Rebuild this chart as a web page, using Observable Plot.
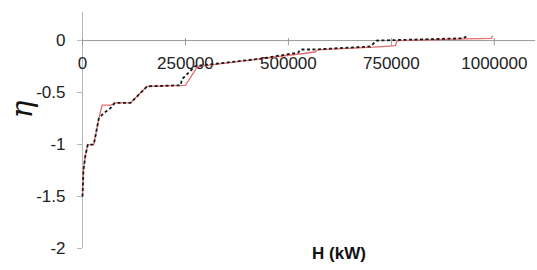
<!DOCTYPE html>
<html>
<head>
<meta charset="utf-8">
<script src="https://cdn.jsdelivr.net/npm/d3@7"></script>
<script src="https://cdn.jsdelivr.net/npm/@observablehq/plot@0.6"></script>
<style>
  body { margin: 0; background: #fff; }
  #chart { width: 537px; height: 270px; }
  svg { font-family: "Liberation Sans", Arial, sans-serif; }
</style>
</head>
<body>
<div id="chart"></div>
<script>
// Series 1 (black dashed)
const blackH   = [0, 2400, 7300, 12900, 27400, 39600, 51000, 68000, 78400, 116500, 157000, 238000, 242000, 274000, 432000, 524000, 529000, 561000, 699000, 714000, 925000, 932000];
const blackEta = [-1.5, -1.24, -1.10, -1.0, -1.0, -0.75, -0.70, -0.65, -0.60, -0.60, -0.44, -0.43, -0.37, -0.245, -0.175, -0.115, -0.086, -0.086, -0.057, 0.0, 0.022, 0.04];
// Series 2 (red solid)
const redH   = [0, 2400, 7300, 12900, 27400, 39600, 47800, 69700, 78400, 116500, 157000, 250000, 279000, 432000, 565000, 570000, 706000, 760000, 764000, 930000, 993000, 995000];
const redEta = [-1.5, -1.24, -1.10, -1.0, -1.0, -0.75, -0.62, -0.62, -0.60, -0.60, -0.44, -0.43, -0.25, -0.175, -0.11, -0.089, -0.064, -0.048, 0.0, 0.016, 0.022, 0.043];

const xTicks = [0, 250000, 500000, 750000, 1000000];
const xTickLabels = ["0", "250000", "500000", "750000", "1000000"];
const yTicks = [0, -0.5, -1, -1.5, -2];
const yTickLabels = ["0", "-0.5", "-1", "-1.5", "-2"];
const xTitle = "H (kW)";
const yTitle = "η";

const black = blackH.map((h, i) => ({H: h, eta: blackEta[i]}));
const red = redH.map((h, i) => ({H: h, eta: redEta[i]}));
const xt = xTicks.map((v, i) => ({v, label: xTickLabels[i]}));

const chart = Plot.plot({
  width: 537,
  height: 270,
  marginLeft: 82,
  marginRight: 2,
  marginTop: 12,
  marginBottom: 22,
  style: {fontFamily: "Liberation Sans, Arial, sans-serif", fontSize: "17px", background: "#fff", color: "#222"},
  x: {domain: [0, 1100000], axis: null},
  y: {domain: [-2, 0.27]},
  marks: [
    Plot.ruleX([0], {y1: -2, y2: 0.27, stroke: "#b8b8b8", strokeWidth: 1}),
    Plot.axisY({ticks: yTicks, tickFormat: (d) => yTickLabels[yTicks.indexOf(d)], tickSize: 5, tickPadding: 12, stroke: "#b8b8b8", label: null, fontSize: 17, fill: "#222"}),
    Plot.ruleY([0], {x1: 0, x2: 1100000, stroke: "#9a9a9a", strokeWidth: 1}),
    Plot.ruleX(xt, {x: "v", y1: 0.02, y2: -0.05, stroke: "#9a9a9a"}),
    Plot.text(xt, {x: "v", y: 0, dy: 23, text: "label", fontSize: 17, fill: "#222"}),
    Plot.line(red, {x: "H", y: "eta", stroke: "#e86a6a", strokeWidth: 1.3}),
    Plot.line(black, {x: "H", y: "eta", stroke: "#1a1a1a", strokeWidth: 1.8, strokeDasharray: "3,2.5", strokeLinecap: "butt"}),
    Plot.text([yTitle], {frameAnchor: "left", dx: -60, dy: -12, rotate: -90, fontSize: 30, fontStyle: "italic", fontFamily: "DejaVu Serif", fill: "#111"}),
    Plot.text([xTitle], {frameAnchor: "bottom", dx: 30, dy: 10, fontSize: 17, fontWeight: "bold", fill: "#111"})
  ]
});
document.getElementById("chart").appendChild(chart);
</script>
</body>
</html>
